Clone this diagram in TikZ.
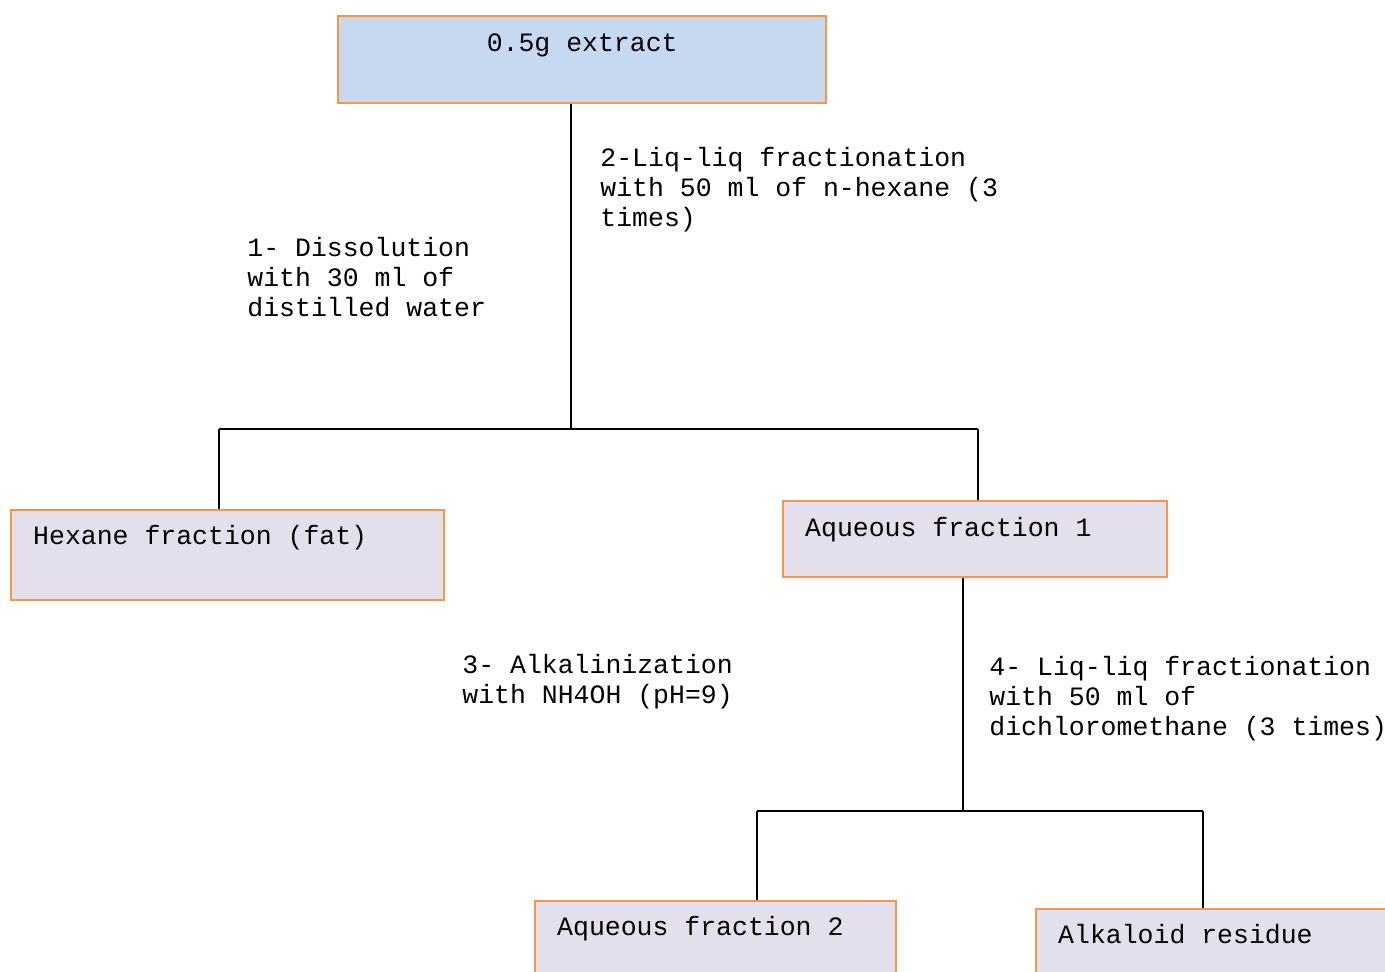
\documentclass[tikz,border=0pt]{standalone}
\usepackage{fontspec}
\setmainfont{Liberation Mono}
\usepackage{xcolor}
\usetikzlibrary{positioning}
\definecolor{boxorange}{HTML}{F79646}
\definecolor{boxblue}{HTML}{C6D9F1}
\definecolor{boxlilac}{HTML}{E4DFEC}

\begin{document}
\begin{tikzpicture}[x=0.5pt,y=-0.5pt]
        \tikzstyle{box}=[rectangle, draw=boxorange, line width=1.2pt, fill=boxlilac, anchor=north west, inner xsep=11pt, inner ysep=0pt, align=left, text height=17pt, font=\fontsize{13.25}{15}\selectfont, execute at begin node={\spaceskip=0.6em\xspaceskip=0.6em\relax}]
        \tikzstyle{note}=[anchor=north west, inner sep=0pt, align=left, font=\fontsize{13.25}{15}\selectfont]
        \tikzstyle{connect}=[line width=0.6pt, black]
        \useasboundingbox (0,0) rectangle (1385,971);
        % boxes
        \node[box,fill=boxblue,align=center,text width=222pt,text height=17.5pt,text depth=26pt] (extract) at (337,15) {0.5g extract};
        \node[box,text width=194.5pt,text depth=28pt] (hexane) at (10,509) {Hexane fraction (fat)};
        \node[box,text width=170pt,text height=17.5pt,text depth=20.5pt] (aq1) at (782,500) {Aqueous fraction 1};
        \node[box,text width=158.5pt,text depth=35pt] (aq2) at (534,900) {Aqueous fraction 2};
        \node[box,text width=168pt,text depth=35pt] (alk) at (1035,908) {Alkaloid residue};
        % steps
        \node[note] (step1) at (247,237) {1- Dissolution\\with 30 ml of\\distilled water};
        \node[note] (step2) at (600,147) {2-Liq-liq fractionation\\with 50 ml of n-hexane (3\\times)};
        \node[note] (step3) at (462,654) {3- Alkalinization\\with NH4OH (pH=9)};
        \node[note] (step4) at (989,656) {4- Liq-liq fractionation\\with 50 ml of\\dichloromethane (3 times)};
        % junctions
        \coordinate (j1) at (571,429);
        \coordinate (jl) at (219,429);
        \coordinate (jr) at (978,429);
        \coordinate (j2) at (963,811);
        \coordinate (jl2) at (757,811);
        \coordinate (jr2) at (1203,811);
        \draw[connect] (extract.south -| j1) -- (j1);
        \draw[connect] (jl) -- (jr);
        \draw[connect] (jl) -- (jl |- hexane.north);
        \draw[connect] (jr) -- (jr |- aq1.north);
        \draw[connect] (aq1.south -| j2) -- (j2);
        \draw[connect] (jl2) -- (jr2);
        \draw[connect] (jl2) -- (jl2 |- aq2.north);
        \draw[connect] (jr2) -- (jr2 |- alk.north);
\end{tikzpicture}
\end{document}
